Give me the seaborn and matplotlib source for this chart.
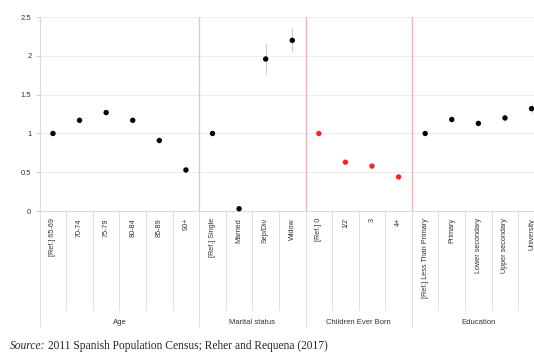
import numpy as np
import pandas as pd
import matplotlib.pyplot as plt
import seaborn as sns

groups = ['Age', 'Marital status', 'Children Ever Born', 'Education']
labels = [
    ['[Ref.] 65-69', '70-74', '75-79', '80-84', '85-89', '90+'],
    ['[Ref.] Single', 'Married', 'Sep/Div', 'Widow'],
    ['[Ref.] 0', '1/2', '3', '4+'],
    ['[Ref.] Less Than Primary', 'Primary', 'Lower secondary', 'Upper secondary', 'University'],
]
values = [
    [1.0, 1.17, 1.27, 1.17, 0.91, 0.53],
    [1.0, 0.03, 1.96, 2.20],
    [1.0, 0.63, 0.58, 0.44],
    [1.0, 1.18, 1.13, 1.20, 1.32],
]
lower = [
    [1.0, 1.14, 1.24, 1.14, 0.88, 0.50],
    [1.0, 0.01, 1.77, 2.05],
    [1.0, 0.61, 0.56, 0.42],
    [1.0, 1.15, 1.10, 1.15, 1.27],
]
upper = [
    [1.0, 1.20, 1.30, 1.20, 0.94, 0.56],
    [1.0, 0.05, 2.17, 2.36],
    [1.0, 0.65, 0.60, 0.46],
    [1.0, 1.21, 1.16, 1.25, 1.39],
]
point_colors = ['black', 'black', '#ff2020', 'black']
sep_colors = ['#d0d0d0', '#ffb0b0', '#ffb0b0']
yticks = [0, 0.5, 1, 1.5, 2, 2.5]
ytick_labels = ['0', '0.5', '1', '1.5', '2', '2.5']

rows = []
for g, labs, vals, lo, hi in zip(groups, labels, values, lower, upper):
    for l, v, a, b in zip(labs, vals, lo, hi):
        rows.append({'group': g, 'label': l, 'value': v, 'lo': a, 'hi': b})
df = pd.DataFrame(rows)
df['pos'] = np.arange(len(df))

sns.set_style('white')
plt.rcParams['font.family'] = ['Liberation Sans', 'DejaVu Sans']

fig = plt.figure(figsize=(5.34, 3.53), dpi=100)
ax = fig.add_axes([0.0743, 0.402, 0.946, 0.5496])

# confidence intervals
ax.vlines(df['pos'], df['lo'], df['hi'], color='#d0d0d0', lw=0.8, zorder=2)

sns.scatterplot(data=df, x='pos', y='value', hue='group', palette=dict(zip(groups, point_colors)),
                s=15, edgecolor='none', legend=False, ax=ax, zorder=3, clip_on=False)

ax.set_xlim(-0.5, len(df) - 0.5)
ax.set_ylim(0, 2.5)
ax.set_yticks(yticks)
ax.set_yticklabels(ytick_labels, fontsize=5.5, color='#333333')
for y in yticks[1:]:
    ax.axhline(y, color='#ececec', lw=0.7, zorder=0)

ax.set_xticks(df['pos'])
ax.set_xticklabels(df['label'], rotation=90, fontsize=5.2, color='#333333', va='top')
ax.tick_params(axis='x', length=0, pad=5)
ax.tick_params(axis='y', length=3, width=0.6, color='#cccccc', pad=3, left=True)
ax.set_xlabel('')
ax.set_ylabel('')
sns.despine(ax=ax, top=True, right=True)
for s in ['left', 'bottom']:
    ax.spines[s].set_color('#d8d8d8')
    ax.spines[s].set_linewidth(0.7)

trans = ax.get_xaxis_transform()
# separators between categories (below the axis)
for p in df['pos'][1:]:
    ax.plot([p - 0.5, p - 0.5], [0, -0.51], transform=trans, color='#e0e0e0', lw=0.7, clip_on=False)

# group separators and labels
sizes = [len(l) for l in labels]
edges = np.concatenate([[0], np.cumsum(sizes)]) - 0.5
for i, e in enumerate(edges[:-1]):
    ax.plot([e, e], [0, -0.6], transform=trans, color='#e0e0e0', lw=0.7, clip_on=False)
    if i > 0:
        ax.plot([e, e], [0, 1], transform=trans, color=sep_colors[i - 1], lw=1.0, zorder=1)
for g, a, b in zip(groups, edges[:-1], edges[1:]):
    ax.text((a + b) / 2, -0.575, g, transform=trans, ha='center', va='center',
            fontsize=5.5, color='#333333')

fig.text(0.019, 0.003, 'Source:', fontsize=8.3, fontstyle='italic', family='Liberation Serif',
         ha='left', va='bottom')
fig.text(0.089, 0.003, '2011 Spanish Population Census; Reher and Requena (2017)', fontsize=8.3,
         family='Liberation Serif', ha='left', va='bottom')

fig.savefig('out.png', dpi=100)
